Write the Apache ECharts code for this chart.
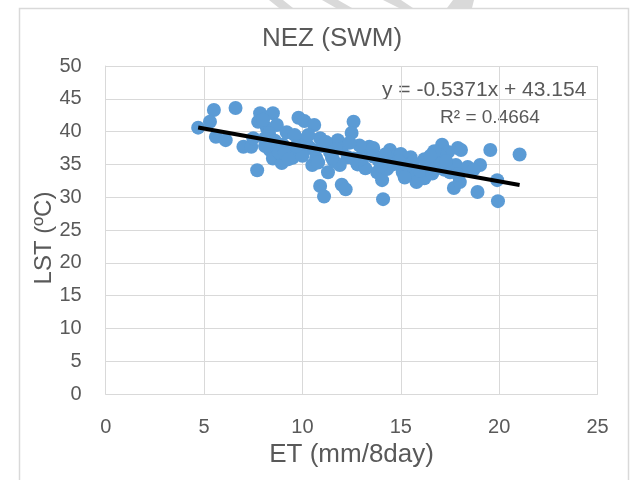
<!DOCTYPE html>
<html>
<head>
<meta charset="utf-8">
<script src="https://cdn.jsdelivr.net/npm/echarts@6/dist/echarts.min.js"></script>
<style>html,body{margin:0;padding:0;background:#fff;}#c{width:631px;height:480px;}</style>
</head>
<body>
<div id="c"></div>
<script>
var chartTitle = "NEZ (SWM)";
var xAxisName = "ET (mm/8day)";
var yAxisName = "LST (ºC)";
var xTicks = [0, 5, 10, 15, 20, 25];
var yTicks = [0, 5, 10, 15, 20, 25, 30, 35, 40, 45, 50];
var etValues = [4.7,5.5,5.3,5.6,6.1,6.6,7.0,7.4,7.7,7.85,8.5,7.75,8.2,7.5,8.1,8.7,8.35,8.9,8.5,8.95,8.0,8.3,8.6,9.0,9.2,9.4,9.5,8.8,9.8,10.1,10.6,9.9,10.4,10.9,11.8,12.6,12.5,11.4,12.3,13.1,13.4,10.5,11.3,10.9,11.1,12.0,12.2,10.0,10.7,11.0,11.6,12.0,12.8,12.9,11.9,10.2,9.6,13.6,14.45,14.8,15.5,15.6,16.2,16.4,16.8,17.1,17.4,17.9,17.7,18.0,17.5,17.8,15.1,15.8,13.8,14.05,14.1,13.2,13.9,14.3,14.6,15.0,15.3,16.0,16.6,17.0,17.2,16.7,17.3,18.06,18.4,19.03,19.55,19.9,18.9,19.94,21.04,18.7,17.9,8.1,9.1,9.7,10.3,11.2,11.7,12.4,13.0,13.6,14.2,14.9,15.6,16.2,16.5,14.0,15.2,12.6,10.8,11.5,9.3];
var lstValues = [40.6,43.3,41.5,39.2,38.7,43.6,37.7,37.7,34.1,42.8,42.8,41.5,40.5,39.0,39.0,41.0,37.2,36.4,35.9,35.2,41.8,39.8,38.6,38.0,39.9,37.0,36.0,36.8,42.1,41.6,41.0,38.7,37.5,39.0,38.7,41.5,39.8,36.9,36.1,36.7,37.7,34.9,33.8,31.7,30.1,31.9,31.2,36.3,36.0,37.8,35.5,37.4,35.0,37.9,34.9,38.2,39.5,37.5,37.2,36.4,36.1,33.4,32.9,34.6,35.4,38.0,36.9,37.5,31.4,32.3,33.8,34.9,33.8,32.3,33.8,32.6,29.7,34.4,35.5,34.3,35.0,36.6,34.9,34.0,33.6,36.4,34.2,37.0,35.5,37.2,34.6,34.9,37.2,32.6,30.8,29.4,36.5,34.2,33.5,37.8,36.7,37.8,39.5,38.4,37.3,38.3,35.8,36.2,36.5,35.5,35.3,35.8,36.3,34.8,33.0,35.9,35.3,36.0,35.8];
var trendSlope = -0.5371;
var trendIntercept = 43.154;
var rSquared = 0.4664;

var points = etValues.map(function (x, i) { return [x, lstValues[i]]; });
var xMin = Math.min.apply(null, etValues), xMax = Math.max.apply(null, etValues);
var trend = [[xMin, trendSlope * xMin + trendIntercept], [xMax, trendSlope * xMax + trendIntercept]];

var chart = echarts.init(document.getElementById('c'), null, {renderer: 'canvas'});
var gridColor = '#d9d9d9';
var textColor = '#595959';
var tickFont = "'Liberation Sans Narrow', 'Liberation Sans'";
chart.setOption({
  animation: false,
  backgroundColor: '#fff',
  title: {
    text: chartTitle, left: 262, top: 26, padding: 0,
    textStyle: {fontFamily: 'Liberation Sans', fontSize: 26, fontWeight: 'normal', color: textColor}
  },
  grid: {left: 105.7, right: 33.5, top: 66, bottom: 86},
  xAxis: {
    type: 'value', min: 0, max: 25, interval: 5,
    name: xAxisName, nameLocation: 'middle', nameGap: 44,
    nameTextStyle: {fontFamily: 'Liberation Sans', fontSize: 26, color: textColor},
    axisLine: {show: true, lineStyle: {color: gridColor, width: 1}},
    axisTick: {show: false},
    axisLabel: {margin: 23, fontFamily: tickFont, fontSize: 20, color: textColor,
      formatter: function (v) { return xTicks.indexOf(v) >= 0 ? String(v) : ''; }},
    splitLine: {show: true, lineStyle: {color: gridColor, width: 1}}
  },
  yAxis: {
    type: 'value', min: 0, max: 50, interval: 5,
    axisLine: {show: true, lineStyle: {color: gridColor, width: 1}},
    axisTick: {show: false},
    axisLabel: {margin: 24, fontFamily: tickFont, fontSize: 20, color: textColor,
      formatter: function (v) { return yTicks.indexOf(v) >= 0 ? String(v) : ''; }},
    splitLine: {show: true, lineStyle: {color: gridColor, width: 1}}
  },
  series: [
    {type: 'scatter', data: points, symbol: 'circle', symbolSize: 14,
      itemStyle: {color: '#5b9bd5', opacity: 1}, z: 2},
    {type: 'line', data: trend, symbol: 'none', lineStyle: {color: '#000', width: 4}, z: 3}
  ],
  graphic: [
    {type: 'rect', shape: {x: 19.5, y: 8.5, width: 609, height: 480}, style: {fill: 'none', stroke: gridColor, lineWidth: 1.5}, silent: true},
    {type: 'polygon', shape: {points: [[269,0],[283,0],[293,8],[279,8]]}, style: {fill: gridColor}, silent: true},
    {type: 'polygon', shape: {points: [[322,0],[338,0],[352,8],[336,8]]}, style: {fill: gridColor}, silent: true},
    {type: 'polygon', shape: {points: [[383,0],[401,0],[413,8],[399,8]]}, style: {fill: gridColor}, silent: true},
    {type: 'polygon', shape: {points: [[453,0],[474,0],[472,8],[447,8]]}, style: {fill: gridColor}, silent: true},
    {type: 'text', x: 44, y: 238, rotation: Math.PI / 2,
      style: {text: yAxisName, fontFamily: 'Liberation Sans', fontSize: 24, fill: textColor, align: 'center', verticalAlign: 'middle'}},
    {type: 'text', x: 382, y: 90,
      style: {text: 'y = ' + trendSlope + 'x + ' + trendIntercept, fontFamily: 'Liberation Sans', fontSize: 21, fill: textColor, align: 'left', verticalAlign: 'middle'}},
    {type: 'text', x: 490, y: 118,
      style: {text: 'R² = ' + rSquared, fontFamily: 'Liberation Sans', fontSize: 19, fill: textColor, align: 'center', verticalAlign: 'middle'}}
  ]
});
</script>
</body>
</html>
